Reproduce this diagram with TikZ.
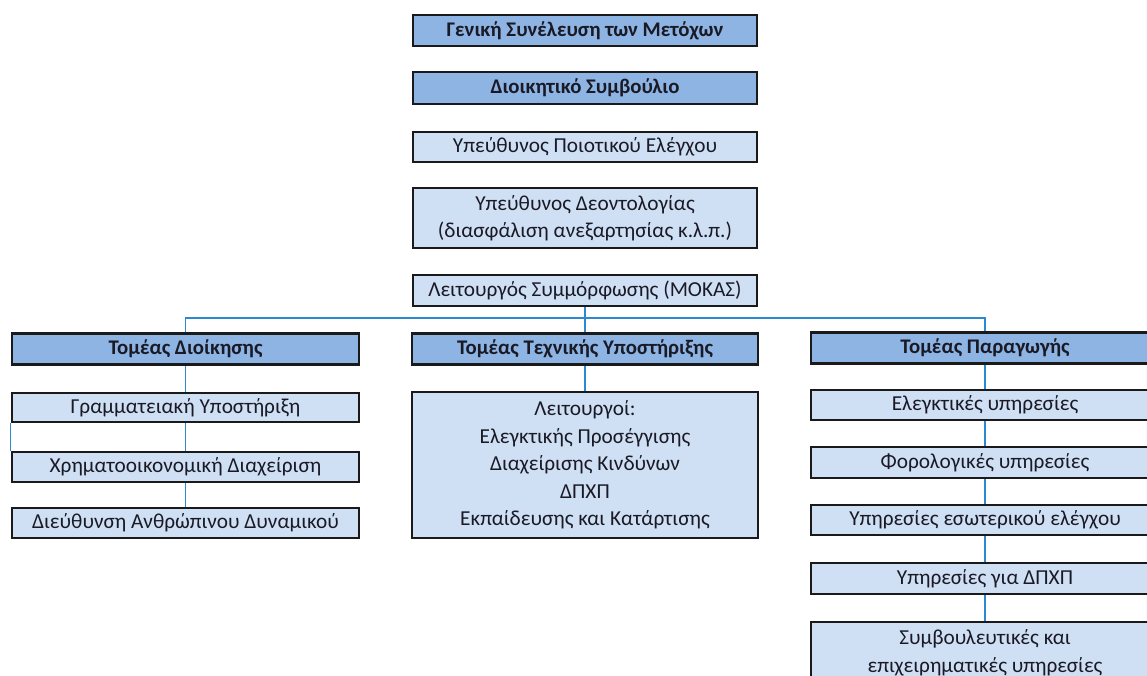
\documentclass[tikz,border=0pt]{standalone}
\usepackage{fontspec}
\setmainfont{Carlito}
\definecolor{darkfill}{HTML}{8DB4E2}
\definecolor{lightfill}{HTML}{D0E0F4}
\definecolor{bordercol}{HTML}{1A1A1A}
\definecolor{linkcol}{HTML}{2A8AD0}
\definecolor{txtcol}{HTML}{1A1A26}
\tikzset{
  box/.style={draw=bordercol, line width=2.6pt, rectangle, inner sep=0pt, align=center,
    text=txtcol, font=\fontsize{21.3}{27.5}\selectfont},
  headbox/.style={box, fill=darkfill, font=\fontsize{20.8}{27.5}\selectfont\bfseries},
  itembox/.style={box, fill=lightfill},
  conn/.style={draw=linkcol, line width=1.4pt}
}
\begin{document}
\begin{tikzpicture}[x=1pt,y=1pt]
\useasboundingbox (0,0) rectangle (1147,-675);
\clip (0,0) rectangle (1147,-675);
% top chain
\node[headbox, minimum width=344, minimum height=31] (gen) at (585,-30.5) {Γενική Συνέλευση των Μετόχων};
\node[headbox, minimum width=344, minimum height=32] (dsb) at (585,-88) {Διοικητικό Συμβούλιο};
\node[itembox, minimum width=344, minimum height=30] (poi) at (585,-147) {Υπεύθυνος Ποιοτικού Ελέγχου};
\node[itembox, minimum width=344, minimum height=60] (deo) at (585,-218) {Υπεύθυνος Δεοντολογίας\\(διασφάλιση ανεξαρτησίας κ.λ.π.)};
\node[itembox, minimum width=344, minimum height=31] (leit) at (585,-290.5) {Λειτουργός Συμμόρφωσης (ΜΟΚΑΣ)};
\coordinate (bus) at (585,-318);
% sectors
\node[headbox, minimum width=347, minimum height=31] (sd) at (185.5,-349) {Τομέας Διοίκησης};
\node[headbox, minimum width=346, minimum height=31] (st) at (585,-349) {Τομέας Τεχνικής Υποστήριξης};
\node[headbox, minimum width=348, minimum height=31] (sp) at (985,-348) {Τομέας Παραγωγής};
% left column
\node[itembox, minimum width=347, minimum height=29] (gram) at (185.5,-407.5) {Γραμματειακή Υποστήριξη};
\node[itembox, minimum width=347, minimum height=30] (xrim) at (185.5,-467) {Χρηματοοικονομική Διαχείριση};
\node[itembox, minimum width=347, minimum height=30] (anth) at (185.5,-523) {Διεύθυνση Ανθρώπινου Δυναμικού};
% middle
\node[itembox, minimum width=346, minimum height=146] (leitg) at (585,-465) {Λειτουργοί:\\Ελεγκτικής Προσέγγισης\\Διαχείρισης Κινδύνων\\ΔΠΧΠ\\Εκπαίδευσης και Κατάρτισης};
% right column
\node[itembox, minimum width=348, minimum height=30] (eleg) at (985,-405) {Ελεγκτικές υπηρεσίες};
\node[itembox, minimum width=348, minimum height=31] (foro) at (985,-462.5) {Φορολογικές υπηρεσίες};
\node[itembox, minimum width=348, minimum height=30] (esot) at (985,-520) {Υπηρεσίες εσωτερικού ελέγχου};
\node[itembox, minimum width=348, minimum height=31] (dpxp) at (985,-578.5) {Υπηρεσίες για ΔΠΧΠ};
\node[itembox, minimum width=348, minimum height=62] (symv) at (985,-653) {Συμβουλευτικές και\\επιχειρηματικές υπηρεσίες};
% connectors
\draw[conn] (leit.south) -- (st.north);
\draw[conn] (sd.north) |- (bus) -| (sp.north);
\draw[conn] (sd.south) -- (gram.north);
\draw[conn] (gram.south) -- (xrim.north);
\draw[conn] (gram.south west) -- (xrim.north west);
\draw[conn] (xrim.south) -- (anth.north);
\draw[conn] (st.south) -- (leitg.north);
\draw[conn] (sp.south) -- (eleg.north);
\draw[conn] (eleg.south) -- (foro.north);
\draw[conn] (foro.south) -- (esot.north);
\draw[conn] (esot.south) -- (dpxp.north);
\draw[conn] (dpxp.south) -- (symv.north);
\end{tikzpicture}
\end{document}
